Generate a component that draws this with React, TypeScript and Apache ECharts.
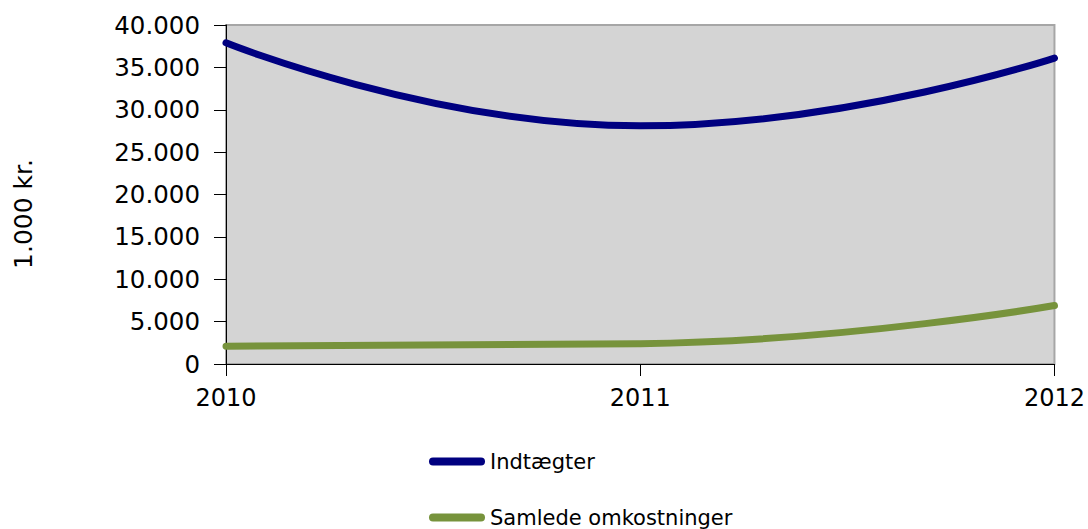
import React, { useEffect, useRef } from "react";
import * as echarts from "echarts";

const years = ["2010", "2011", "2012"];
const indtaegter = [37900, 28100, 36100];
const omkostninger = [2100, 2400, 6900];
const seriesNames = ["Indtægter", "Samlede omkostninger"];
const yAxisName = "1.000 kr.";

const fmt = (v: number) => {
  const s = String(Math.round(v));
  return s.replace(/\B(?=(\d{3})+(?!\d))/g, ".");
};

const capsule = "path://M4,0 L52,0 A4,4 0 0 1 52,8 L4,8 A4,4 0 0 1 4,0 Z";

export default function App() {
  const ref = useRef<HTMLDivElement>(null);
  useEffect(() => {
    if (!ref.current) return;
    const chart = echarts.init(ref.current, undefined, { renderer: "svg" });
    const font = "Verdana, 'DejaVu Sans', sans-serif";
    const legendBase = {
      orient: "vertical",
      left: 429,
      padding: 0,
      itemWidth: 56,
      itemHeight: 8,
      textStyle: { fontFamily: font, fontSize: 21, color: "#000" },
    };
    chart.setOption({
      animation: false,
      backgroundColor: "#ffffff",
      grid: {
        left: 226,
        right: 31,
        top: 25,
        bottom: 165,
        show: true,
        backgroundColor: "#d4d4d4",
        borderColor: "#a6a6a6",
        borderWidth: 2,
      },
      legend: [
        { ...legendBase, top: 451, data: [{ name: seriesNames[0], icon: capsule }] },
        { ...legendBase, top: 507, data: [{ name: seriesNames[1], icon: capsule }] },
      ],
      graphic: [
        {
          type: "text",
          x: 23,
          y: 214,
          rotation: Math.PI / 2,
          style: {
            text: yAxisName,
            fontFamily: font,
            fontSize: 25,
            fill: "#000",
            align: "center",
            verticalAlign: "middle",
          },
        },
      ],
      xAxis: {
        type: "category",
        data: years,
        boundaryGap: false,
        axisLine: { lineStyle: { color: "#000", width: 1 } },
        axisTick: { show: true, length: 12, lineStyle: { color: "#000" } },
        axisLabel: { fontFamily: font, fontSize: 24, color: "#000", margin: 22 },
        splitLine: { show: false },
      },
      yAxis: {
        type: "value",
        min: 0,
        max: 40000,
        interval: 5000,
        axisLine: { show: true, lineStyle: { color: "#000", width: 1 } },
        axisTick: { show: true, length: 12, lineStyle: { color: "#000" } },
        axisLabel: { fontFamily: font, fontSize: 24.5, color: "#000", margin: 26, formatter: fmt },
        splitLine: { show: false },
      },
      series: [
        {
          name: seriesNames[0],
          type: "line",
          data: indtaegter,
          smooth: 0.5,
          symbol: "none",
          lineStyle: { color: "#000080", width: 7, cap: "round" },
          itemStyle: { color: "#000080" },
        },
        {
          name: seriesNames[1],
          type: "line",
          data: omkostninger,
          smooth: 0.5,
          symbol: "none",
          lineStyle: { color: "#77933c", width: 7, cap: "round" },
          itemStyle: { color: "#77933c" },
        },
      ],
    });
    return () => chart.dispose();
  }, []);
  return <div ref={ref} style={{ width: 1088, height: 529, position: "absolute", left: 0, top: 0 }} />;
}
